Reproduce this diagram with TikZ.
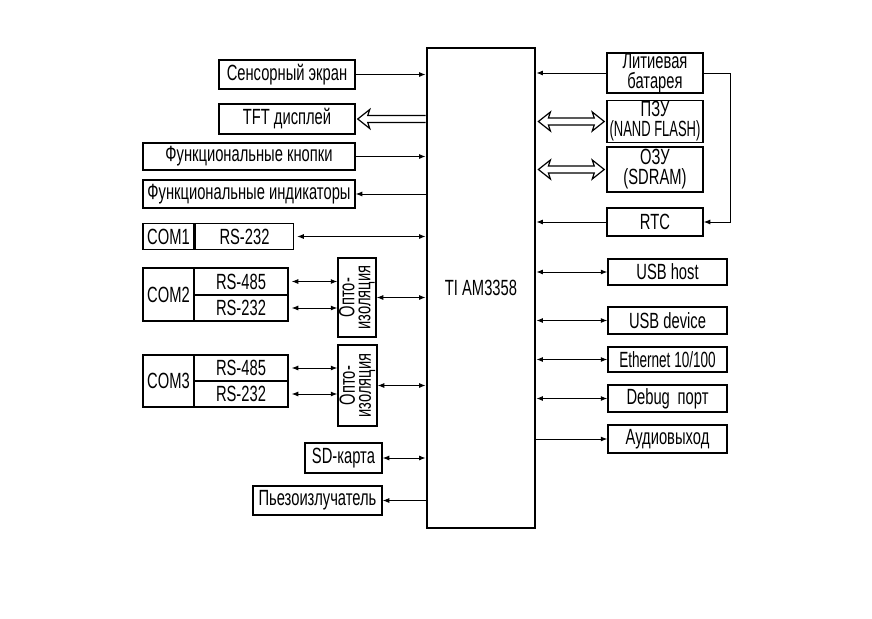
\documentclass[tikz,border=0pt]{standalone}
\usepackage{fontspec}
\usepackage{graphicx}
\setmainfont[FakeStretch=0.67]{Liberation Sans}
\usetikzlibrary{positioning, arrows.meta, calc}

% wide hollow bus arrow, tip at #2
\newcommand\busone[2]{%
  \draw[line width=1.2pt, fill=white, line join=miter]
    let \p1=#1, \p2=#2, \n1={ifthenelse(\x2>\x1,1,-1)} in
    (\x1,{\y1+3.5pt}) -- ({\x2-\n1*10pt},{\y1+3.5pt}) -- ({\x2-\n1*12pt},{\y1+9.5pt})
    -- (\x2,\y1) -- ({\x2-\n1*12pt},{\y1-9.5pt}) -- ({\x2-\n1*10pt},{\y1-3.5pt}) -- (\x1,{\y1-3.5pt});}
% same with a tip at both ends
\newcommand\bustwo[2]{%
  \draw[line width=1.2pt, fill=white, line join=miter]
    let \p1=#1, \p2=#2, \n1={ifthenelse(\x2>\x1,1,-1)} in
    ({\x1+\n1*10pt},{\y1+3.5pt}) -- ({\x2-\n1*10pt},{\y1+3.5pt}) -- ({\x2-\n1*12pt},{\y1+9.5pt})
    -- (\x2,\y1) -- ({\x2-\n1*12pt},{\y1-9.5pt}) -- ({\x2-\n1*10pt},{\y1-3.5pt})
    -- ({\x1+\n1*10pt},{\y1-3.5pt}) -- ({\x1+\n1*12pt},{\y1-9.5pt}) -- (\x1,\y1)
    -- ({\x1+\n1*12pt},{\y1+9.5pt}) -- cycle;}

\begin{document}
\begin{tikzpicture}[x=1pt, y=-1pt,
    blk/.style={draw, line width=1.5pt, inner sep=0pt, minimum height=28pt, align=center, font=\fontsize{22pt}{20pt}\selectfont},
    lbl/.style={inner sep=0pt, align=center, font=\fontsize{22pt}{16pt}\selectfont},
    arr/.style={-{Latex[length=6.5pt, width=5pt]}, line width=0.9pt},
    darr/.style={{Latex[length=6.5pt, width=5pt]}-{Latex[length=6.5pt, width=5pt]}, line width=0.9pt},
  ]
    \useasboundingbox (0,0) rectangle (872,618);

    \node[blk, line width=2.8pt, minimum width=108pt, minimum height=480pt] (cpu) at (481,288) {TI AM3358};

    % left side
    \node[blk, minimum width=136pt, minimum height=29pt] (touch) at (287,74.5) {Сенсорный экран};
    \node[blk, minimum width=136pt, minimum height=30pt] (tft) at (287,119) {TFT дисплей};
    \node[blk, minimum width=212pt, minimum height=27pt] (keys) at (249,156.5) {Функциональные кнопки};
    \node[blk, minimum width=212pt, minimum height=28pt] (leds) at (249,194) {Функциональные индикаторы};

    \node[blk, minimum width=51pt, minimum height=26pt] (com1) at (168.5,236.5) {COM1};
    \node[blk, minimum width=98pt, minimum height=26pt, right=0pt of com1] (c1rs) {RS-232};

    \node[blk, minimum width=51pt, minimum height=53pt] (com2) at (168.5,294.5) {COM2};
    \node[blk, minimum width=94pt, minimum height=27pt] (c2a) at (241,281.5) {RS-485};
    \node[blk, minimum width=94pt, minimum height=26pt] (c2b) at (241,308) {RS-232};
    \node[blk, minimum width=38pt, minimum height=79pt] (opto1) at (357,297.5) {};
    \node[lbl, rotate=90] (opto1t) at (opto1) {Опто-\\изоляция};

    \node[blk, minimum width=51pt, minimum height=52pt] (com3) at (168.5,381) {COM3};
    \node[blk, minimum width=94pt, minimum height=26pt] (c3a) at (241,368) {RS-485};
    \node[blk, minimum width=94pt, minimum height=26pt] (c3b) at (241,394) {RS-232};
    \node[blk, minimum width=39pt, minimum height=81pt] (opto2) at (357.5,385.5) {};
    \node[lbl, rotate=90] (opto2t) at (opto2) {Опто-\\изоляция};

    \node[blk, minimum width=77pt, minimum height=30pt] (sd) at (343.5,458) {SD-карта};
    \node[blk, minimum width=129pt, minimum height=29pt] (buzz) at (317.5,500.5) {Пьезоизлучатель};

    % right side
    \node[blk, minimum width=96pt, minimum height=40pt] (batt) at (655,73) {Литиевая\\батарея};
    \node[blk, minimum width=96pt, minimum height=42pt] (rom) at (655,121.5) {ПЗУ\\\scalebox{0.88}[1]{(NAND FLASH)}};
    \node[blk, minimum width=96pt, minimum height=45pt] (ram) at (655,169.5) {ОЗУ\\(SDRAM)};
    \node[blk, minimum width=96pt, minimum height=28pt] (rtc) at (655,222) {RTC};

    \node[blk, minimum width=119pt, minimum height=26pt] (usbh) at (667.5,272) {USB host};
    \node[blk, minimum width=119pt, minimum height=27pt] (usbd) at (667.5,320.5) {USB device};
    \node[blk, minimum width=119pt, minimum height=25pt] (eth) at (667.5,359.5) {\scalebox{0.92}[1]{Ethernet 10/100}};
    \node[blk, minimum width=119pt, minimum height=27pt] (dbg) at (667.5,398.5) {Debug\, порт};
    \node[blk, minimum width=119pt, minimum height=28pt] (audio) at (667.5,439) {Аудиовыход};

    \draw[arr] (touch.east) -- (touch.east -| cpu.west);
    \busone{(tft.east -| cpu.west)}{([xshift=2pt]tft.east)}
    \draw[arr] (keys.east) -- (keys.east -| cpu.west);
    \draw[arr] (leds.east -| cpu.west) -- (leds.east);
    \draw[darr] ([xshift=3pt]c1rs.east) -- (c1rs.east -| cpu.west);
    \draw[darr] ([xshift=3pt]c2a.east) -- (c2a.east -| opto1.west);
    \draw[darr] ([xshift=3pt]c2b.east) -- (c2b.east -| opto1.west);
    \draw[darr] (opto1.east) -- (opto1.east -| cpu.west);
    \draw[darr] ([xshift=3pt]c3a.east) -- (c3a.east -| opto2.west);
    \draw[darr] ([xshift=3pt]c3b.east) -- (c3b.east -| opto2.west);
    \draw[darr] (opto2.east) -- (opto2.east -| cpu.west);
    \draw[darr] (sd.east) -- (sd.east -| cpu.west);
    \draw[arr] (buzz.east -| cpu.west) -- (buzz.east);

    \draw[arr] (batt.west) -- (batt.west -| cpu.east);
    \draw[arr] (batt.east) -- ++(27,0) |- (rtc.east);
    \bustwo{([xshift=2pt]rom.west -| cpu.east)}{([xshift=-2pt]rom.west)}
    \bustwo{([xshift=2pt]ram.west -| cpu.east)}{([xshift=-2pt]ram.west)}
    \draw[arr] (rtc.west) -- (rtc.west -| cpu.east);
    \draw[darr] (usbh.west -| cpu.east) -- (usbh.west);
    \draw[darr] (usbd.west -| cpu.east) -- (usbd.west);
    \draw[darr] (eth.west -| cpu.east) -- (eth.west);
    \draw[darr] (dbg.west -| cpu.east) -- (dbg.west);
    \draw[arr] (audio.west -| cpu.east) -- (audio.west);
  \end{tikzpicture}
\end{document}
